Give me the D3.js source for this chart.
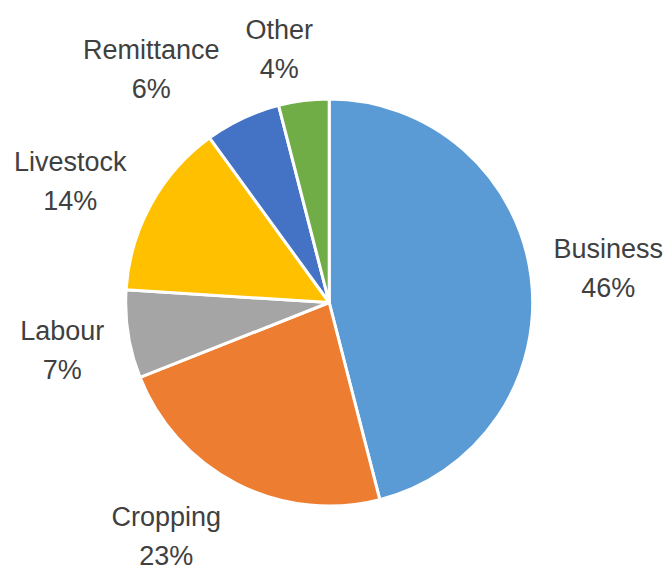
<!DOCTYPE html>
<html>
<head>
<meta charset="utf-8">
<script src="https://cdn.jsdelivr.net/npm/d3@7"></script>
<style>
  html, body { margin: 0; padding: 0; background: #fff; }
  svg { display: block; }
  text { font-family: "Liberation Sans", Arial, sans-serif; }
</style>
</head>
<body>
<script>
// Income sources, in percent, clockwise from 12 o'clock
const categories = ["Business", "Cropping", "Labour", "Livestock", "Remittance", "Other"];
const shares = [46, 23, 7, 14, 6, 4];
const colors = ["#5B9BD5", "#ED7D31", "#A5A5A5", "#FFC000", "#4472C4", "#70AD47"];

const width = 666, height = 569;
const cx = 329.2, cy = 302.5, radius = 203.5;

// Label anchors (text centre, first baseline) relative to the pie centre
const labelOffsets = {
  Business:   [279, -45],
  Cropping:   [-163, 223],
  Labour:     [-267, 37],
  Livestock:  [-259, -132],
  Remittance: [-178, -244],
  Other:      [-50, -264]
};

const data = categories.map((c, i) => ({ name: c, value: shares[i], color: colors[i] }));

const svg = d3.select("body").append("svg")
  .attr("width", width).attr("height", height);

const pie = d3.pie().sort(null).value(d => d.value);
const arc = d3.arc().innerRadius(0).outerRadius(radius);

const g = svg.append("g").attr("transform", `translate(${cx},${cy})`);

g.selectAll("path.slice")
  .data(pie(data))
  .join("path")
  .attr("class", "slice")
  .attr("d", arc)
  .attr("fill", d => d.data.color)
  .attr("stroke", "#fff")
  .attr("stroke-width", 3)
  .attr("stroke-linejoin", "round");

const labels = g.selectAll("text.lbl")
  .data(pie(data))
  .join("text")
  .attr("class", "lbl")
  .attr("text-anchor", "middle")
  .attr("font-size", 27)
  .attr("fill", "#404040")
  .attr("transform", d => {
    const o = labelOffsets[d.data.name];
    return `translate(${o[0]},${o[1]})`;
  });

labels.append("tspan").attr("x", 0).attr("y", 0).text(d => d.data.name);
labels.append("tspan").attr("x", 0).attr("y", 39).text(d => d.data.value + "%");
</script>
</body>
</html>
